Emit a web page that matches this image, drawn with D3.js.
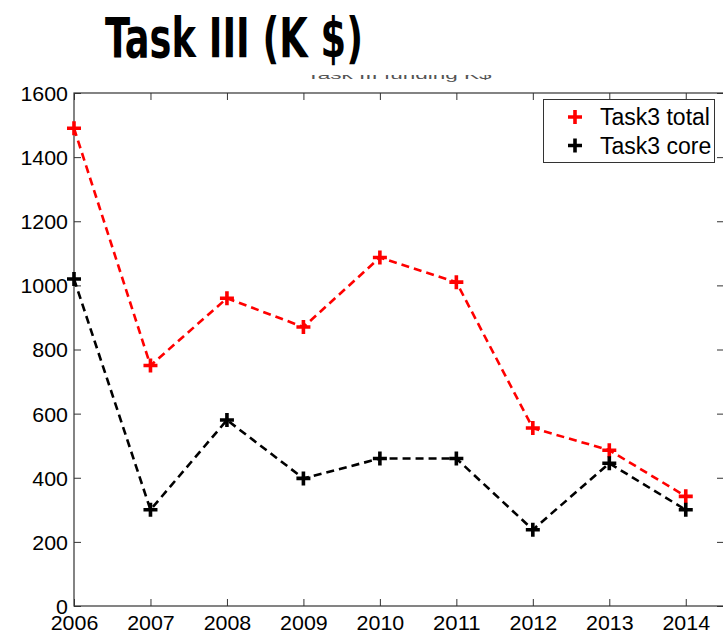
<!DOCTYPE html>
<html><head><meta charset="utf-8">
<script src="https://cdn.jsdelivr.net/npm/d3@7"></script>
<style>body{margin:0;background:#fff;} svg{display:block;}</style>
</head><body>
<svg id="c" width="723" height="634"></svg>
<script>
const years = [2006, 2007, 2008, 2009, 2010, 2011, 2012, 2013, 2014];
const task3Total = [1490, 750, 960, 870, 1087, 1010, 555, 486, 342];
const task3Core = [1020, 300, 580, 398, 460, 460, 238, 445, 300];
const yTicks = [0, 200, 400, 600, 800, 1000, 1200, 1400, 1600];
const xTicks = [2006, 2007, 2008, 2009, 2010, 2011, 2012, 2013, 2014];
const seriesNames = ["Task3 total", "Task3 core"];
const seriesColors = ["#ff0000", "#000000"];

const svg = d3.select("#c");
const W = 723, H = 634;
const L = 74, R = 724, T = 93, B = 606;
const x = d3.scaleLinear().domain([2006, 2014.5]).range([L, R]);
const y = d3.scaleLinear().domain([0, 1600]).range([B, T]);
const font = "'Liberation Sans', Arial, Helvetica, sans-serif";

svg.append("rect").attr("width", W).attr("height", H).attr("fill", "#fff");

// faint hidden subtitle (only lower strip visible)
const defs = svg.append("defs");
defs.append("clipPath").attr("id", "subclip").append("rect")
  .attr("x", 0).attr("y", 75).attr("width", W).attr("height", 8);
svg.append("text").attr("clip-path", "url(#subclip)")
  .attr("x", (L + R) / 2).attr("y", 79).attr("text-anchor", "middle")
  .attr("font-family", font).attr("font-size", 13).attr("fill", "#555")
  .attr("textLength", 185).attr("lengthAdjust", "spacingAndGlyphs")
  .text("Task III funding K$");

// big title
svg.append("text").attr("x", 105).attr("y", 57)
  .attr("font-family", "'Liberation Sans Narrow', 'DejaVu Sans Condensed', 'Open Sans', sans-serif")
  .attr("font-weight", "bold").attr("font-size", 56).attr("fill", "#000")
  .attr("textLength", 258).attr("lengthAdjust", "spacingAndGlyphs")
  .text("Task III (K $)");

// axes
const axisColor = "#333";
const g = svg.append("g");
function styleLabels(sel) {
  sel.selectAll("text").attr("font-family", font).attr("font-size", 20.5).attr("fill", "#000")
    .each(function() {
      const t = d3.select(this);
      t.attr("textLength", t.text().length * 11.9).attr("lengthAdjust", "spacingAndGlyphs");
    });
}
const leftAxis = d3.axisLeft(y).tickValues(yTicks).tickSize(-7).tickPadding(6).tickFormat(d3.format("d"));
const ga = g.append("g").attr("transform", `translate(${L},0)`).call(leftAxis);
ga.select(".domain").remove();
ga.selectAll("line").attr("stroke", axisColor);
styleLabels(ga);
ga.selectAll("text").attr("dy", "0.36em");

const rightAxis = d3.axisRight(y).tickValues(yTicks).tickSize(-7).tickFormat("");
const gr = g.append("g").attr("transform", `translate(${R},0)`).call(rightAxis);
gr.select(".domain").remove();
gr.selectAll("line").attr("stroke", axisColor);

const bottomAxis = d3.axisBottom(x).tickValues(xTicks).tickSize(-7).tickPadding(9).tickFormat(d3.format("d"));
const gb = g.append("g").attr("transform", `translate(0,${B})`).call(bottomAxis);
gb.select(".domain").remove();
gb.selectAll("line").attr("stroke", axisColor);
styleLabels(gb);
gb.selectAll("text").attr("dy", "0.72em");

const topAxis = d3.axisTop(x).tickValues(xTicks).tickSize(-7).tickFormat("");
const gt = g.append("g").attr("transform", `translate(0,${T})`).call(topAxis);
gt.select(".domain").remove();
gt.selectAll("line").attr("stroke", axisColor);

// frame
g.append("rect").attr("x", L).attr("y", T).attr("width", R - L).attr("height", B - T)
  .attr("fill", "none").attr("stroke", axisColor).attr("stroke-width", 1.2);

// series
const series = [task3Total, task3Core];
const line = d3.line().x((d, i) => x(years[i])).y(d => y(d));
const plus = 7;
series.forEach((vals, si) => {
  const c = seriesColors[si];
  svg.append("path").datum(vals).attr("d", line).attr("fill", "none")
    .attr("stroke", c).attr("stroke-width", 2.6).attr("stroke-dasharray", "8,5");
  const m = svg.append("g");
  vals.forEach((v, i) => {
    const cx = x(years[i]), cy = y(v);
    m.append("path").attr("d", `M${cx - plus},${cy}H${cx + plus}M${cx},${cy - plus}V${cy + plus}`)
      .attr("stroke", c).attr("stroke-width", 3.6).attr("fill", "none");
  });
});

// legend
const lg = svg.append("g");
lg.append("rect").attr("x", 543.5).attr("y", 99.5).attr("width", 171).attr("height", 63)
  .attr("fill", "#fff").attr("stroke", "#333").attr("stroke-width", 1);
seriesNames.forEach((n, i) => {
  const cy = 117 + i * 28.5, cx = 575;
  lg.append("path").attr("d", `M${cx - plus},${cy}H${cx + plus}M${cx},${cy - plus}V${cy + plus}`)
    .attr("stroke", seriesColors[i]).attr("stroke-width", 3.6);
  lg.append("text").attr("x", 600).attr("y", cy).attr("dy", "0.36em")
    .attr("font-family", font).attr("font-size", 23).attr("fill", "#000").text(n);
});
</script>
</body></html>
